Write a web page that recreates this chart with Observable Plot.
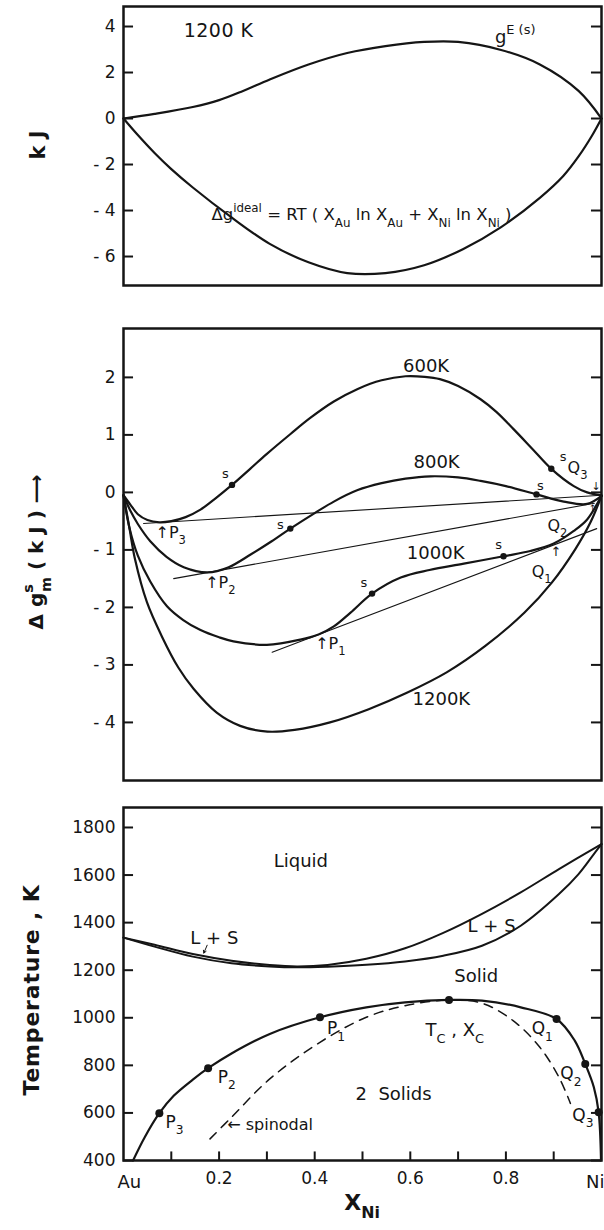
<!DOCTYPE html>
<html><head><meta charset="utf-8">
<script src="https://cdn.jsdelivr.net/npm/d3@7"></script>
<script src="https://cdn.jsdelivr.net/npm/@observablehq/plot@0.6"></script>
<style>
html,body{margin:0;padding:0;background:#fff;}
#wrap{position:relative;width:604px;height:1230px;overflow:hidden;background:#fff;}
</style></head><body><div id="wrap"></div>
<script>
// ---------- Panel 1: 1200 K, excess and ideal free energies (kJ) ----------
const topTicks = [4, 2, 0, -2, -4, -6];
const xGE = [0, 0.065, 0.145, 0.2, 0.25, 0.306, 0.387, 0.468, 0.548, 0.629, 0.7, 0.79, 0.871, 0.952, 1];
const gE  = [0, 0.2, 0.5, 0.8, 1.2, 1.7, 2.35, 2.85, 3.15, 3.33, 3.33, 2.98, 2.35, 1.2, 0];
const xID = [0, 0.03, 0.065, 0.1, 0.145, 0.226, 0.306, 0.387, 0.468, 0.548, 0.629, 0.71, 0.79, 0.871, 0.92, 0.952, 0.98, 1];
const gID = [0, -0.72, -1.5, -2.2, -3.0, -4.3, -5.45, -6.25, -6.72, -6.72, -6.38, -5.68, -4.72, -3.45, -2.5, -1.65, -0.75, 0];

// ---------- Panel 2: Δg of mixing at four temperatures (kJ) ----------
const midTicks = [2, 1, 0, -1, -2, -3, -4];
const x600 = [0, 0.015, 0.03, 0.05, 0.075, 0.1, 0.13, 0.161, 0.19, 0.227, 0.265, 0.30, 0.35, 0.39, 0.44, 0.49, 0.54, 0.59, 0.63, 0.662, 0.70, 0.747, 0.78, 0.816, 0.855, 0.895, 0.942, 0.97, 1];
const g600 = [-0.05, -0.22, -0.38, -0.48, -0.52, -0.50, -0.43, -0.30, -0.12, 0.13, 0.41, 0.67, 1.02, 1.29, 1.58, 1.80, 1.95, 2.02, 2.01, 1.97, 1.85, 1.62, 1.40, 1.10, 0.76, 0.41, 0.11, 0.0, -0.05];
const x800 = [0, 0.015, 0.03, 0.056, 0.09, 0.126, 0.176, 0.22, 0.266, 0.31, 0.349, 0.40, 0.44, 0.49, 0.54, 0.59, 0.642, 0.70, 0.747, 0.80, 0.864, 0.921, 0.97, 1];
const g800 = [-0.05, -0.33, -0.55, -0.85, -1.12, -1.30, -1.39, -1.30, -1.08, -0.85, -0.63, -0.36, -0.16, 0.04, 0.16, 0.24, 0.28, 0.26, 0.20, 0.11, -0.035, -0.16, -0.20, -0.06];
const x1000 = [0, 0.012, 0.03, 0.056, 0.091, 0.125, 0.16, 0.2, 0.23, 0.3, 0.37, 0.408, 0.44, 0.475, 0.52, 0.58, 0.64, 0.712, 0.795, 0.851, 0.9, 0.942, 0.97, 1];
const g1000 = [-0.05, -0.6, -1.1, -1.55, -1.98, -2.22, -2.39, -2.52, -2.59, -2.65, -2.56, -2.47, -2.33, -2.09, -1.76, -1.48, -1.35, -1.24, -1.11, -1.02, -0.89, -0.67, -0.47, -0.06];
const x1200 = [0, 0.012, 0.024, 0.049, 0.08, 0.115, 0.147, 0.195, 0.244, 0.301, 0.358, 0.432, 0.513, 0.594, 0.676, 0.757, 0.839, 0.896, 0.945, 0.977, 1];
const g1200 = [-0.05, -0.6, -1.16, -1.91, -2.5, -3.05, -3.42, -3.83, -4.06, -4.16, -4.13, -4.0, -3.77, -3.48, -3.13, -2.67, -2.09, -1.57, -0.99, -0.52, -0.06];
// common tangents
const tanX600 = [0.042, 1.0],  tanY600 = [-0.54, -0.05];
const tanX800 = [0.105, 0.985], tanY800 = [-1.50, -0.19];
const tanX1000 = [0.311, 0.99], tanY1000 = [-2.78, -0.63];
// spinodal points "s"
const sX = [0.227, 0.895, 0.349, 0.864, 0.52, 0.795];
const sY = [0.13, 0.41, -0.63, -0.035, -1.76, -1.11];
const sLblX = [0.213, 0.92, 0.328, 0.872, 0.503, 0.785];
const sLblY = [0.32, 0.62, -0.57, 0.12, -1.58, -0.92];
const tempLabels = ["600K", "800K", "1000K", "1200K"];
const tempLblX = [0.633, 0.655, 0.653, 0.665];
const tempLblY = [2.2, 0.52, -1.05, -3.6];

// ---------- Panel 3: Au–Ni phase diagram (K) ----------
const tTicks = [400, 600, 800, 1000, 1200, 1400, 1600, 1800];
const xMinor = [0.1, 0.2, 0.3, 0.4, 0.5, 0.6, 0.7, 0.8, 0.9];
const xMajor = [0.2, 0.4, 0.6, 0.8];
const xLiq = [0, 0.065, 0.145, 0.226, 0.306, 0.363, 0.427, 0.508, 0.589, 0.669, 0.75, 0.831, 0.911, 1];
const TLiq = [1337, 1307, 1268, 1240, 1222, 1216, 1222, 1248, 1292, 1357, 1437, 1527, 1625, 1730];
const xSol = [0, 0.065, 0.145, 0.226, 0.306, 0.363, 0.427, 0.508, 0.589, 0.669, 0.75, 0.831, 0.911, 0.952, 0.984, 1];
const TSol = [1337, 1299, 1257, 1229, 1216, 1212, 1215, 1223, 1237, 1261, 1303, 1387, 1520, 1604, 1688, 1730];
const xSolvus = [0.02, 0.045, 0.075, 0.105, 0.145, 0.177, 0.226, 0.306, 0.411, 0.508, 0.589, 0.681, 0.75, 0.831, 0.906, 0.944, 0.966, 0.984, 0.994, 0.999];
const TSolvus = [400, 500, 599, 672, 740, 788, 850, 932, 1002, 1044, 1065, 1075, 1072, 1044, 995, 904, 806, 708, 603, 400];
const xSpin = [0.181, 0.226, 0.306, 0.411, 0.508, 0.589, 0.681, 0.75, 0.815, 0.871, 0.911, 0.935];
const TSpin = [491, 582, 743, 897, 1002, 1051, 1075, 1061, 988, 876, 750, 640];
const ptX = [0.075, 0.177, 0.411, 0.681, 0.906, 0.966, 0.994];
const ptT = [599, 788, 1002, 1075, 995, 806, 603];
const regionLabels = ["Liquid", "L + S", "L + S", "Solid", "2  Solids"];
const regionX = [0.371, 0.19, 0.77, 0.738, 0.565];
const regionT = [1660, 1335, 1386, 1173, 677];

// ---------- helpers ----------
const F = "DejaVu Sans";
const INK = "#151515";
const TICKX = 0.021;   // inward tick length in x units
const TICKT = 36;      // inward tick length in K
const wrap = document.getElementById("wrap");
const fmtSigned = d => d < 0 ? "- " + (-d) : String(d);

function place(plot, top) {
  plot.style.position = "absolute";
  plot.style.left = "0px";
  plot.style.top = top + "px";
  wrap.appendChild(plot);
  return plot;
}
function rich(plot, xv, yv, parts, o = {}) {
  const size = o.size || 15;
  const px = (xv == null ? o.px : plot.scale("x").apply(xv)) + (o.dx || 0);
  const py = (yv == null ? o.py : plot.scale("y").apply(yv)) + (o.dy || 0);
  const g = d3.select(plot).append("g")
    .attr("transform", `translate(${px},${py}) rotate(${o.rotate || 0})`);
  const t = g.append("text")
    .attr("font-family", F).attr("font-size", size)
    .attr("font-weight", o.weight || "normal")
    .attr("text-anchor", o.anchor || "start")
    .attr("letter-spacing", o.ls || 0)
    .attr("fill", INK).attr("y", size * 0.35)
    .style("white-space", "pre");
  let cur = 0;
  for (const p of parts) {
    const [s, kind, pdx] = Array.isArray(p) ? p : [p, ""];
    const off = kind === "sub" ? size * 0.38 : kind === "sup" ? -size * 0.5 : 0;
    const ts = t.append("tspan").attr("dy", off - cur).text(s);
    if (pdx) ts.attr("dx", pdx);
    if (kind) ts.attr("font-size", size * 0.72);
    cur = off;
  }
}
const baseStyle = {fontFamily: F, fontSize: "17px", color: INK, background: "transparent", overflow: "visible"};
function frameMarks(ticks, fmt) {
  return [
    Plot.frame({strokeWidth: 2.5, stroke: INK}),
    Plot.axisY({ticks, tickSize: 0, tickPadding: 8, tickFormat: fmt, fontSize: 17}),
    Plot.ruleY(ticks, {x1: 0, x2: TICKX, strokeWidth: 2, stroke: INK}),
    Plot.ruleY(ticks, {x1: 1 - TICKX, x2: 1, strokeWidth: 2, stroke: INK})
  ];
}

// ---------- Panel 1 ----------
const p1 = place(Plot.plot({
  width: 604, height: 300, marginLeft: 123, marginRight: 3, marginTop: 6, marginBottom: 15,
  x: {domain: [0, 1], axis: null},
  y: {domain: [-7.26, 4.87]},
  style: baseStyle,
  marks: [
    ...frameMarks(topTicks, fmtSigned),
    Plot.line(gE, {x: xGE, y: gE, curve: "catmull-rom", strokeWidth: 2.2, stroke: INK}),
    Plot.line(gID, {x: xID, y: gID, curve: "catmull-rom", strokeWidth: 2.2, stroke: INK})
  ]
}), 0);
rich(p1, 0.2, 3.8, ["1200 K"], {size: 19, anchor: "middle", ls: 0.5});
rich(p1, 0.778, 3.55, ["g", ["E (s)", "sup"]], {size: 18});
rich(p1, 0.185, -4.2, ["Δg", ["ideal", "sup"], " = RT ( X", ["Au", "sub"], " ln X", ["Au", "sub"], " + X", ["Ni", "sub"], " ln X", ["Ni", "sub"], " )"], {size: 16.5});
rich(p1, null, null, ["k J"], {px: 38, py: 145, rotate: -90, anchor: "middle", size: 21, weight: "bold"});

// ---------- Panel 2 ----------
const p2 = place(Plot.plot({
  width: 604, height: 495, marginLeft: 123, marginRight: 3, marginTop: 28, marginBottom: 15,
  x: {domain: [0, 1], axis: null},
  y: {domain: [-5.01, 2.85]},
  style: baseStyle,
  marks: [
    ...frameMarks(midTicks, fmtSigned),
    Plot.line(tanY600, {x: tanX600, y: tanY600, strokeWidth: 1.1, stroke: INK}),
    Plot.line(tanY800, {x: tanX800, y: tanY800, strokeWidth: 1.1, stroke: INK}),
    Plot.line(tanY1000, {x: tanX1000, y: tanY1000, strokeWidth: 1.1, stroke: INK}),
    Plot.line(g600, {x: x600, y: g600, curve: "catmull-rom", strokeWidth: 2.2, stroke: INK}),
    Plot.line(g800, {x: x800, y: g800, curve: "catmull-rom", strokeWidth: 2.2, stroke: INK}),
    Plot.line(g1000, {x: x1000, y: g1000, curve: "catmull-rom", strokeWidth: 2.2, stroke: INK}),
    Plot.line(g1200, {x: x1200, y: g1200, curve: "catmull-rom", strokeWidth: 2.2, stroke: INK}),
    Plot.dot(sX, {x: sX, y: sY, r: 3.2, fill: INK}),
    Plot.text(sLblX, {x: sLblX, y: sLblY, text: () => "s", fontSize: 13}),
    Plot.text(tempLabels, {x: tempLblX, y: tempLblY, text: d => d, fontSize: 18})
  ]
}), 300);
rich(p2, 0.068, -0.70, ["↑P", ["3", "sub"]], {size: 16});
rich(p2, 0.172, -1.58, ["↑P", ["2", "sub"]], {size: 16});
rich(p2, 0.402, -2.64, ["↑P", ["1", "sub"]], {size: 16});
rich(p2, 0.93, 0.42, ["Q", ["3", "sub"]], {size: 16});
rich(p2, 0.99, 0.1, ["↓"], {size: 11, anchor: "middle"});
rich(p2, 0.888, -0.59, ["Q", ["2", "sub"]], {size: 16});
rich(p2, 0.983, -0.27, ["↑"], {size: 9, anchor: "middle"});
rich(p2, 0.855, -1.39, ["Q", ["1", "sub"]], {size: 16});
rich(p2, 0.906, -1.03, ["↑"], {size: 13, anchor: "middle"});
rich(p2, null, null, ["Δ g", ["s", "sup"], ["m", "sub", -8], " ( k J ) ⟶"], {px: 36, py: 252, rotate: -90, anchor: "middle", size: 20, weight: "bold"});

// ---------- Panel 3 ----------
const p3 = place(Plot.plot({
  width: 604, height: 435, marginLeft: 123, marginRight: 3, marginTop: 12, marginBottom: 70,
  x: {domain: [0, 1]},
  y: {domain: [400, 1884]},
  style: baseStyle,
  marks: [
    ...frameMarks(tTicks, d => String(d)),
    Plot.ruleX(xMinor, {x: d => d, y1: 400, y2: 400 + TICKT, strokeWidth: 2, stroke: INK}),
    Plot.axisX({ticks: xMajor, tickSize: 0, tickPadding: 11, tickFormat: d => d.toFixed(1), fontSize: 17}),
    Plot.text(["Au"], {x: [0], y: [400], text: d => d, textAnchor: "start", dx: -6, dy: 22, fontSize: 18}),
    Plot.text(["Ni"], {x: [1], y: [400], text: d => d, textAnchor: "end", dx: 3, dy: 22, fontSize: 18}),
    Plot.line(TLiq, {x: xLiq, y: TLiq, curve: "catmull-rom", strokeWidth: 2, stroke: INK}),
    Plot.line(TSol, {x: xSol, y: TSol, curve: "catmull-rom", strokeWidth: 2, stroke: INK}),
    Plot.line(TSolvus, {x: xSolvus, y: TSolvus, curve: "catmull-rom", strokeWidth: 2.2, stroke: INK}),
    Plot.line(TSpin, {x: xSpin, y: TSpin, curve: "catmull-rom", strokeWidth: 1.5, stroke: INK, strokeDasharray: "9,7"}),
    Plot.dot(ptX, {x: ptX, y: ptT, r: 4, fill: INK}),
    Plot.arrow([0], {x1: 0.175, y1: 1305, x2: 0.168, y2: 1272, stroke: INK, strokeWidth: 1, headLength: 5}),
    Plot.text(regionLabels, {x: regionX, y: regionT, text: d => d, fontSize: 18})
  ]
}), 795);
rich(p3, 0.633, 946, ["T", ["C", "sub"], " , X", ["C", "sub"]], {size: 18});
rich(p3, 0.218, 551, ["← spinodal"], {size: 16});
rich(p3, 0.089, 561, ["P", ["3", "sub"]], {size: 17});
rich(p3, 0.198, 750, ["P", ["2", "sub"]], {size: 17});
rich(p3, 0.427, 953, ["P", ["1", "sub"]], {size: 17});
rich(p3, 0.855, 953, ["Q", ["1", "sub"]], {size: 17});
rich(p3, 0.915, 764, ["Q", ["2", "sub"]], {size: 17});
rich(p3, 0.94, 589, ["Q", ["3", "sub"]], {size: 17});
rich(p3, null, null, ["Temperature , K"], {px: 31, py: 195, rotate: -90, anchor: "middle", size: 22, weight: "bold", ls: 0.8});
rich(p3, null, null, ["X", ["Ni", "sub"]], {px: 362, py: 407, anchor: "middle", size: 22, weight: "bold"});
</script></body></html>
